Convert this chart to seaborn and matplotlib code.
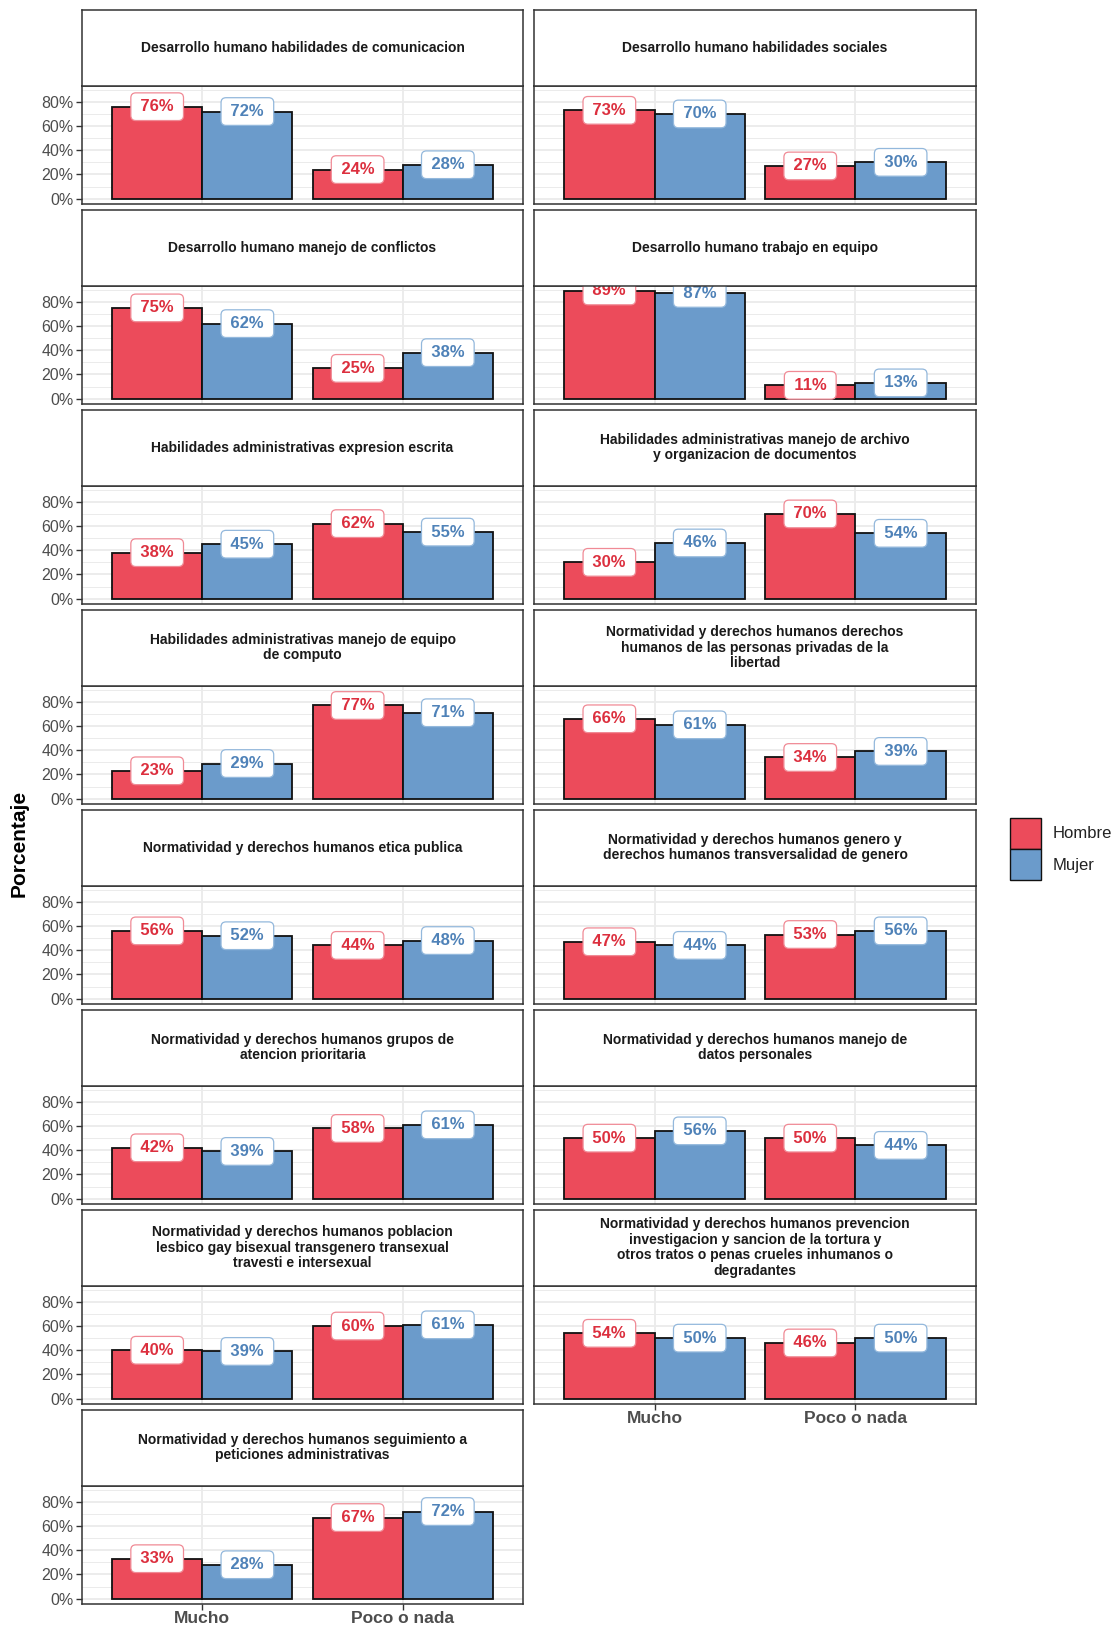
import matplotlib
matplotlib.use('Agg')
import matplotlib.pyplot as plt
import seaborn as sns
import pandas as pd
from matplotlib.patches import Patch

# ---------------- data ----------------
paneles = [
    "Desarrollo humano habilidades de comunicacion",
    "Desarrollo humano habilidades sociales",
    "Desarrollo humano manejo de conflictos",
    "Desarrollo humano trabajo en equipo",
    "Habilidades administrativas expresion escrita",
    "Habilidades administrativas manejo de archivo\ny organizacion de documentos",
    "Habilidades administrativas manejo de equipo\nde computo",
    "Normatividad y derechos humanos derechos\nhumanos de las personas privadas de la\nlibertad",
    "Normatividad y derechos humanos etica publica",
    "Normatividad y derechos humanos genero y\nderechos humanos transversalidad de genero",
    "Normatividad y derechos humanos grupos de\natencion prioritaria",
    "Normatividad y derechos humanos manejo de\ndatos personales",
    "Normatividad y derechos humanos poblacion\nlesbico gay bisexual transgenero transexual\ntravesti e intersexual",
    "Normatividad y derechos humanos prevencion\ninvestigacion y sancion de la tortura y\notros tratos o penas crueles inhumanos o\ndegradantes",
    "Normatividad y derechos humanos seguimiento a\npeticiones administrativas",
]
categorias = ["Mucho", "Poco o nada"]
sexos = ["Hombre", "Mujer"]
hombre_mucho = [76, 73, 75, 89, 38, 30, 23, 66, 56, 47, 42, 50, 40, 54, 33]
mujer_mucho  = [72, 70, 62, 87, 45, 46, 29, 61, 52, 44, 39, 56, 39, 50, 28]
hombre_poco  = [24, 27, 25, 11, 62, 70, 77, 34, 44, 53, 58, 50, 60, 46, 67]
mujer_poco   = [28, 30, 38, 13, 55, 54, 71, 39, 48, 56, 61, 44, 61, 50, 72]
y_ticks = [0, 0.2, 0.4, 0.6, 0.8]
y_tick_labels = ["0%", "20%", "40%", "60%", "80%"]

rows = []
for i, p in enumerate(paneles):
    rows.append((p, "Mucho", "Hombre", hombre_mucho[i] / 100))
    rows.append((p, "Mucho", "Mujer", mujer_mucho[i] / 100))
    rows.append((p, "Poco o nada", "Hombre", hombre_poco[i] / 100))
    rows.append((p, "Poco o nada", "Mujer", mujer_poco[i] / 100))
df = pd.DataFrame(rows, columns=["panel", "categoria", "sexo", "valor"])

# ---------------- style ----------------
sns.set_theme(style="white")
plt.rcParams['font.family'] = ['Liberation Sans', 'DejaVu Sans']

fill = {"Hombre": "#EC4B5B", "Mujer": "#6B9BCB"}
txtcol = {"Hombre": "#DC2F3E", "Mujer": "#4F82B8"}
bordcol = {"Hombre": "#F08A95", "Mujer": "#93B8DC"}

W, H = 1115, 1629
fig = plt.figure(figsize=(W / 100, H / 100), dpi=100)

cols = [(82, 523), (534, 976)]
row0 = 9.6
period = 200.0
strip_h = 76.0
panel_h = 118.4


def rect(x0, y0, x1, y1):
    return [x0 / W, 1 - y1 / H, (x1 - x0) / W, (y1 - y0) / H]


n = len(paneles)
for i, p in enumerate(paneles):
    r, c = divmod(i, 2)
    x0, x1 = cols[c]
    st = row0 + r * period
    pt = st + strip_h
    pb = pt + panel_h

    ax = fig.add_axes(rect(x0, pt, x1, pb))
    sub = df[df["panel"] == p]
    sns.barplot(data=sub, x="categoria", y="valor", hue="sexo",
                order=categorias, hue_order=sexos, palette=fill,
                width=0.9, saturation=1, edgecolor="#111111", linewidth=1.3,
                errorbar=None, legend=False, ax=ax)
    ax.set_xlim(-0.6, 1.6)
    ax.set_ylim(-0.0445, 0.9345)
    ax.set_yticks(y_ticks)
    ax.set_yticks([0.1, 0.3, 0.5, 0.7, 0.9], minor=True)
    ax.set_axisbelow(True)
    ax.grid(which="major", color="#EBEBEB", lw=1.3)
    ax.grid(which="minor", axis="y", color="#EBEBEB", lw=0.7)
    ax.set_xlabel("")
    ax.set_ylabel("")
    for s in ax.spines.values():
        s.set_color("#333333")
        s.set_linewidth(1.1)

    left = (c == 0)
    bottom = (i == n - 1) or (i == n - 2)
    ax.tick_params(axis="y", which="minor", left=False, length=0)
    if left:
        ax.set_yticklabels(y_tick_labels)
        ax.tick_params(axis="y", which="major", left=True, length=4, width=1.0,
                       color="#333333", labelsize=11.5, labelcolor="#4D4D4D", pad=2)
    else:
        ax.tick_params(axis="y", which="major", left=False, labelleft=False)
    if bottom:
        ax.tick_params(axis="x", bottom=True, length=4, width=1.0,
                       color="#333333", labelsize=12.5, labelcolor="#4D4D4D", pad=1)
        for t in ax.get_xticklabels():
            t.set_fontweight("bold")
    else:
        ax.tick_params(axis="x", bottom=False, labelbottom=False)

    for cont, sexo in zip(ax.containers, sexos):
        for bar in cont:
            h = bar.get_height()
            ax.text(bar.get_x() + bar.get_width() / 2, h,
                    "\u2009" + f"{round(h * 100):d}%" + "\u2009",
                    ha="center", va="center", color=txtcol[sexo],
                    fontsize=12, fontweight="bold", zorder=6, clip_on=True,
                    bbox=dict(boxstyle="round,pad=0.38,rounding_size=0.3",
                              fc="white", ec=bordcol[sexo], lw=0.9))

    axs = fig.add_axes(rect(x0, st, x1, pt))
    axs.set_facecolor("white")
    axs.set_xticks([])
    axs.set_yticks([])
    for s in axs.spines.values():
        s.set_color("#333333")
        s.set_linewidth(1.1)
    axs.text(0.5, 0.5, p, ha="center", va="center", fontsize=10,
             fontweight="bold", color="#1A1A1A", linespacing=1.15,
             transform=axs.transAxes)

fig.text(19 / W, 1 - 843 / H, "Porcentaje", rotation=90, ha="center", va="center",
         fontsize=15, fontweight="bold", color="#000000")

handles = [Patch(facecolor=fill[s], edgecolor="#111111", lw=1.0, label=s) for s in sexos]
fig.legend(handles=handles, loc="center left", bbox_to_anchor=(1010 / W, 1 - 849 / H),
           frameon=False, fontsize=12, handlelength=1.85, handleheight=2.5,
           labelspacing=0, handletextpad=0.7, borderpad=0, borderaxespad=0,
           labelcolor="#222222")

fig.savefig("out.png", dpi=100)
